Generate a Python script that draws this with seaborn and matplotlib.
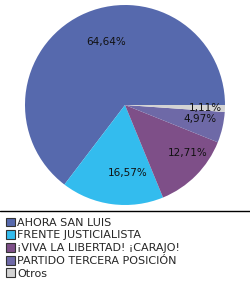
import numpy as np
import matplotlib
matplotlib.use("Agg")
import matplotlib.pyplot as plt
import seaborn as sns
from matplotlib.patches import Patch
from matplotlib.lines import Line2D

sns.set_style("white")
plt.rcParams['font.family'] = ['DejaVu Sans']

# Data
partidos = ["AHORA SAN LUIS", "FRENTE JUSTICIALISTA", "¡VIVA LA LIBERTAD! ¡CARAJO!",
            "PARTIDO TERCERA POSICIÓN", "Otros"]
porcentajes = [64.64, 16.57, 12.71, 4.97, 1.11]
etiquetas = ["64,64%", "16,57%", "12,71%", "4,97%", "1,11%"]

colores = sns.color_palette(["#5669AD", "#33BCEE", "#7E4F88", "#6E69A7", "#D3D3D3"])

# label placement (angle offset in degrees, radius fraction)
lab_off = [-10, 10, 7, 2, 0]
lab_r = [0.66, 0.68, 0.79, 0.76, 0.80]

fig = plt.figure(figsize=(2.5, 2.85), dpi=100)
ax = fig.add_axes([25 / 250, 80 / 285, 200 / 250, 200 / 285])

wedges, _ = ax.pie(porcentajes, colors=colores, startangle=0, counterclock=True,
                   radius=1, wedgeprops=dict(linewidth=0))
for w, lab, off, r in zip(wedges, etiquetas, lab_off, lab_r):
    ang = np.deg2rad((w.theta1 + w.theta2) / 2 + off)
    ax.text(r * np.cos(ang), r * np.sin(ang), lab, ha="center", va="center",
            fontsize=7.5, color="#111111")
ax.set_xlim(-1, 1)
ax.set_ylim(-1, 1)
ax.set_aspect("equal")
ax.axis("off")

# separator line
fig.add_artist(Line2D([0, 1], [1 - 210.5 / 285] * 2, color="black", linewidth=1))

handles = [Patch(facecolor=c, edgecolor="#333333", linewidth=0.8) for c in colores]
fig.legend(handles, partidos, loc="upper left", bbox_to_anchor=(6 / 250, 1 - 217.5 / 285),
           frameon=False, fontsize=8, handlelength=0.85, handleheight=0.85,
           handletextpad=0.15, labelspacing=0.22, borderpad=0.0, borderaxespad=0.0)

fig.savefig("out.png", dpi=100)
